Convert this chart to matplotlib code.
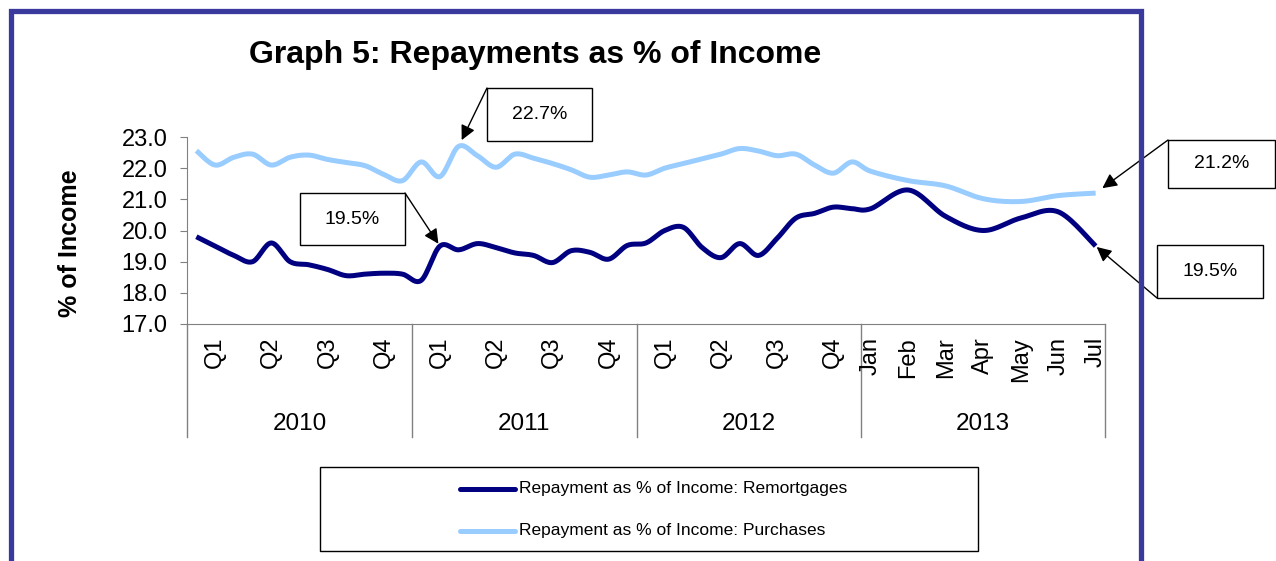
import numpy as np
import matplotlib.pyplot as plt
from matplotlib.patches import Rectangle
from matplotlib.lines import Line2D

plt.rcParams['font.family'] = ['Liberation Sans', 'DejaVu Sans']

# monthly readings Jan 2010 - Dec 2012, then Jan - Jul 2013
years = ["2010", "2011", "2012", "2013"]
quarters = ["Q1", "Q2", "Q3", "Q4"]
months_2013 = ["Jan", "Feb", "Mar", "Apr", "May", "Jun", "Jul"]

remortgages = [
    19.8, 19.5, 19.2, 19.0, 19.6, 19.0, 18.9, 18.75, 18.55, 18.6, 18.63, 18.6,
    18.4, 19.5, 19.38, 19.58, 19.45, 19.28, 19.2, 18.97, 19.35, 19.3, 19.08, 19.52,
    19.6, 20.0, 20.1, 19.45, 19.13, 19.58, 19.2, 19.75, 20.4, 20.55, 20.75, 20.7,
    20.7, 21.3, 20.45, 20.0, 20.4, 20.6, 19.5,
]
purchases = [
    22.56, 22.1, 22.35, 22.45, 22.1, 22.35, 22.42, 22.28, 22.18, 22.08, 21.8, 21.6,
    22.2, 21.73, 22.7, 22.4, 22.03, 22.45, 22.32, 22.15, 21.95, 21.71, 21.78, 21.88,
    21.78, 22.0, 22.15, 22.3, 22.45, 22.63, 22.55, 22.4, 22.45, 22.1, 21.84, 22.2,
    21.9, 21.6, 21.43, 21.02, 20.93, 21.12, 21.2,
]

W, H = 1276, 561
DARK = "#000080"
LIGHT = "#99ccff"
FRAME = "#3a3a9e"
GRID = "#808080"


def fx(px):
    return px / W


def fy(py):
    return 1 - py / H


def smooth(x, y, n=16):
    # Catmull-Rom curve through the points, like a smoothed office line chart
    pts = np.column_stack([x, y])
    p = np.vstack([pts[0], pts, pts[-1]])
    t = np.linspace(0, 1, n, endpoint=False)[:, None]
    segs = []
    for i in range(1, len(p) - 2):
        p0, p1, p2, p3 = p[i - 1], p[i], p[i + 1], p[i + 2]
        segs.append(0.5 * (2 * p1 + (p2 - p0) * t
                           + (2 * p0 - 5 * p1 + 4 * p2 - p3) * t ** 2
                           + (3 * p1 - p0 - 3 * p2 + p3) * t ** 3))
    segs.append(pts[-1:])
    c = np.vstack(segs)
    return c[:, 0], c[:, 1]


# 36 monthly slots, then 2013 months take two slots each
xpos = np.r_[np.arange(36), 36 + 2 * np.arange(len(months_2013))] + 0.5
n_slots = 36 + 2 * len(months_2013) - 1

fig = plt.figure(figsize=(W / 100, H / 100), dpi=100)
ax = fig.add_axes([fx(187), fy(324), fx(1105 - 187), (324 - 137) / H])

sx, sy = smooth(xpos, remortgages)
ax.plot(sx, sy, color=DARK, lw=3.6, solid_capstyle='butt',
        label="Repayment as % of Income: Remortgages")
sx, sy = smooth(xpos, purchases)
ax.plot(sx, sy, color=LIGHT, lw=3.6, solid_capstyle='butt',
        label="Repayment as % of Income: Purchases")

ax.set_xlim(0, n_slots)
ax.set_ylim(17, 23)
ax.set_yticks(np.arange(17, 23.5, 1))
ax.set_yticklabels([f"{v:.1f}" for v in np.arange(17, 23.5, 1)], fontsize=17)
ax.tick_params(axis='y', length=5, color=GRID, pad=9)
ax.set_xticks([])
for s in ("top", "right"):
    ax.spines[s].set_visible(False)
for s in ("left", "bottom"):
    ax.spines[s].set_color(GRID)

# two-level category axis
xt = ax.get_xaxis_transform()
depth = -(437 - 324) / (324 - 137)
for b in [0, 12, 24, 36, n_slots]:
    ax.plot([b, b], [0, depth], color=GRID, lw=1, transform=xt, clip_on=False)
lab_y = -(337 - 324) / (324 - 137)
for k in range(3):
    for q, name in enumerate(quarters):
        ax.text(12 * k + 3 * q + 1.5, lab_y, name, transform=xt, rotation=90,
                ha='center', va='top', fontsize=17)
for m, name in enumerate(months_2013):
    ax.text(36 + 2 * m + 0.5, lab_y, name, transform=xt, rotation=90,
            ha='center', va='top', fontsize=17)
yr_y = -(424 - 324) / (324 - 137)
for k, (a, b) in enumerate([(0, 12), (12, 24), (24, 36), (36, n_slots)]):
    ax.text((a + b) / 2, yr_y, years[k], transform=xt, ha='center',
            va='center', fontsize=17.5)

fig.text(fx(535), fy(55), "Graph 5: Repayments as % of Income",
         ha='center', va='center', fontsize=23, fontweight='bold')
fig.text(fx(70), fy(243), "% of Income", rotation=90, ha='center',
         va='center', fontsize=18, fontweight='bold')

# outer frame
fig.patches.append(Rectangle((fx(10.5), -0.2), fx(1141 - 10.5), fy(10.5) + 0.2,
                             transform=fig.transFigure, fill=False,
                             edgecolor=FRAME, lw=3.8))


def callout(series, i, box, corner, shrink):
    x0, y0, x1, y1 = box
    fig.patches.append(Rectangle((fx(x0), fy(y1)), fx(x1 - x0), (y1 - y0) / H,
                                 transform=fig.transFigure, fill=True,
                                 facecolor='white', edgecolor='black', lw=1))
    fig.text(fx((x0 + x1) / 2), fy((y0 + y1) / 2), f"{series[i]:.1f}%",
             ha='center', va='center', fontsize=14)
    ax.annotate("", xy=(xpos[i], series[i]), xycoords='data',
                xytext=(fx(corner[0]), fy(corner[1])),
                textcoords='figure fraction', annotation_clip=False,
                arrowprops=dict(arrowstyle='-|>', color='black', lw=1,
                                mutation_scale=22, shrinkA=0, shrinkB=shrink))


callout(purchases, 14, (487, 88, 592, 141), (487, 88), 5)
callout(remortgages, 13, (300, 193, 405, 245), (405, 193), 2)
callout(purchases, len(purchases) - 1, (1168, 140, 1275, 188), (1168, 140), 6)
callout(remortgages, len(remortgages) - 1, (1157, 245, 1263, 298), (1157, 298), 1)

# legend box
fig.patches.append(Rectangle((fx(320), fy(551)), fx(978 - 320), (551 - 467) / H,
                             transform=fig.transFigure, fill=False,
                             edgecolor='black', lw=1))
for line, row in zip(ax.get_lines()[:2], (489, 531)):
    fig.lines.append(Line2D([fx(460), fx(515)], [fy(row), fy(row)],
                            transform=fig.transFigure, color=line.get_color(),
                            lw=3.6, solid_capstyle='round'))
    fig.text(fx(519), fy(row), line.get_label(), ha='left', va='center',
             fontsize=12.5)

fig.savefig("out.png", dpi=100)
